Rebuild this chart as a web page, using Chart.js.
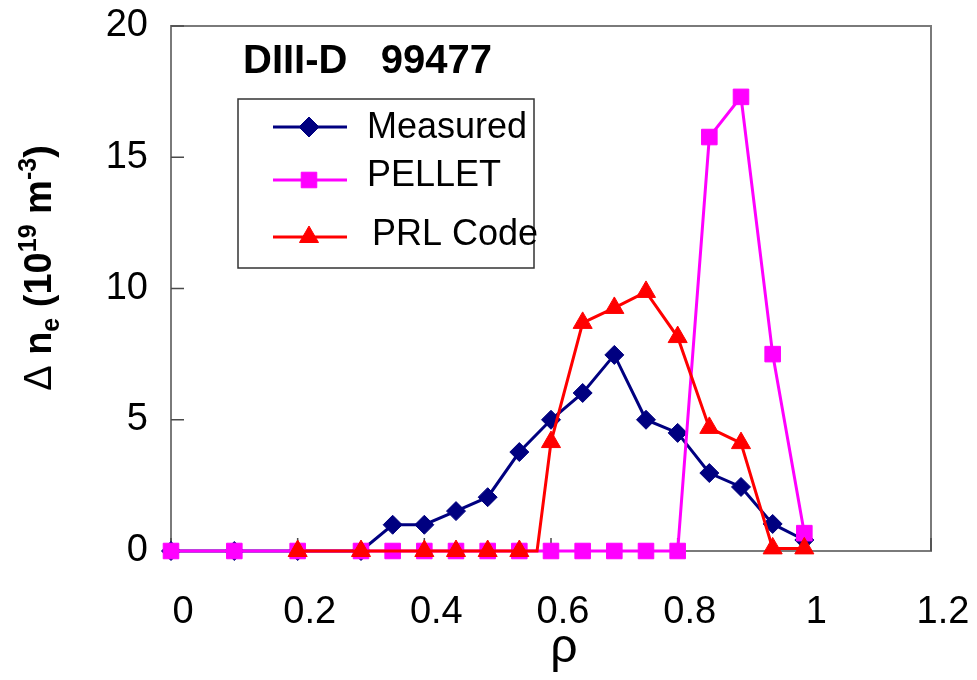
<!DOCTYPE html>
<html><head><meta charset="utf-8">
<style>html,body{margin:0;padding:0;background:#fff;}canvas{display:block;}</style>
<script src="https://cdn.jsdelivr.net/npm/chart.js@4.4.0/dist/chart.umd.min.js"></script>
</head><body>
<canvas id="c" width="977" height="680"></canvas>
<script>
// ---- data ----
const rhoMeasured = [0, 0.1, 0.2, 0.3, 0.35, 0.4, 0.45, 0.5, 0.55, 0.6, 0.65, 0.7, 0.75, 0.8, 0.85, 0.9, 0.95, 1.0];
const measured    = [0, 0, 0, 0, 1.0, 1.0, 1.52, 2.05, 3.77, 5.0, 6.02, 7.47, 5.0, 4.5, 2.97, 2.44, 1.03, 0.42];
const rhoPellet   = [0, 0.1, 0.2, 0.3, 0.35, 0.4, 0.45, 0.5, 0.55, 0.6, 0.65, 0.7, 0.75, 0.8, 0.85, 0.9, 0.95, 1.0];
const pellet      = [0, 0, 0, 0, 0, 0, 0, 0, 0, 0, 0, 0, 0, 0, 15.77, 17.3, 7.5, 0.68];
const rhoPRL      = [0.2, 0.3, 0.4, 0.45, 0.5, 0.55, 0.578, 0.6, 0.65, 0.7, 0.75, 0.8, 0.85, 0.9, 0.95, 1.0];
const prl         = [0, 0, 0, 0, 0, 0, 0, 4.15, 8.69, 9.26, 9.87, 8.15, 4.69, 4.11, 0.1, 0.1];
const prlHasMarker = [true, true, true, true, true, true, false, true, true, true, true, true, true, true, true, true];
const seriesNames = ['Measured', 'PELLET', 'PRL Code'];
const xTickLabels = ['0', '0.2', '0.4', '0.6', '0.8', '1', '1.2'];
const yTickLabels = ['0', '5', '10', '15', '20'];
const annotationText = 'DIII-D   99477';

const FONT = '"Liberation Sans", Arial, Helvetica, sans-serif';
Chart.defaults.font.family = FONT;

const toXY = (xs, ys) => xs.map((x, i) => ({x: x, y: ys[i]}));

const colors = {m: '#000080', p: '#FF00FF', r: '#FF0000'};

const datasets = [
  {label: seriesNames[0], data: toXY(rhoMeasured, measured), borderColor: colors.m, backgroundColor: colors.m,
   borderWidth: 3, pointStyle: 'rectRot', pointRadius: 9.5, pointBorderWidth: 1, pointBorderColor: colors.m, pointBackgroundColor: colors.m, order: 3, clip: false},
  {label: seriesNames[1], data: toXY(rhoPellet, pellet), borderColor: colors.p, backgroundColor: colors.p,
   borderWidth: 3, pointStyle: 'rect', pointRadius: 11, pointBorderWidth: 1, pointBorderColor: colors.p, pointBackgroundColor: colors.p, order: 2, clip: false},
  {label: seriesNames[2], data: toXY(rhoPRL, prl), borderColor: colors.r, backgroundColor: colors.r,
   borderWidth: 3, pointStyle: 'triangle', pointRadius: ctx => prlHasMarker[ctx.dataIndex] ? 11 : 0,
   pointBorderWidth: 1, pointBorderColor: colors.r, pointBackgroundColor: colors.r, order: 1, clip: false}
];

const frame = {
  id: 'frame',
  beforeDatasetsDraw(chart) {
    const {ctx, chartArea: a, scales: {x, y}} = chart;
    ctx.save();
    ctx.strokeStyle = '#7a7a7a'; ctx.lineWidth = 2;
    ctx.strokeRect(a.left, a.top, a.right - a.left, a.bottom - a.top);
    ctx.strokeStyle = '#4a4a4a'; ctx.lineWidth = 1.5;
    ctx.beginPath();
    y.ticks.forEach(t => { const py = y.getPixelForValue(t.value); ctx.moveTo(a.left, py); ctx.lineTo(a.left + 13, py); });
    x.ticks.forEach(t => { const px = x.getPixelForValue(t.value); ctx.moveTo(px, a.bottom); ctx.lineTo(px, a.bottom - 13); });
    ctx.stroke();
    ctx.restore();
  }
};

function drawMarker(ctx, style, r, cx, cy, color) {
  ctx.fillStyle = color; ctx.strokeStyle = color; ctx.lineWidth = 1;
  Chart.helpers.drawPoint(ctx, {pointStyle: style, radius: r, rotation: 0, borderWidth: 1}, cx, cy);
}

const extras = {
  id: 'extras',
  afterDraw(chart) {
    const {ctx} = chart;
    ctx.save();
    // annotation
    ctx.fillStyle = '#000';
    ctx.font = 'bold 40px ' + FONT;
    ctx.textAlign = 'left'; ctx.textBaseline = 'alphabetic';
    ctx.fillText(annotationText, 243, 73);
    // legend box
    ctx.strokeStyle = '#333'; ctx.lineWidth = 1.5;
    ctx.strokeRect(238, 99, 296, 169);
    const items = [
      {name: seriesNames[0], color: colors.m, style: 'rectRot', r: 10, y: 127, tx: 367, ty: 138},
      {name: seriesNames[1], color: colors.p, style: 'rect', r: 11, y: 180, tx: 367, ty: 186},
      {name: seriesNames[2], color: colors.r, style: 'triangle', r: 11, y: 237, tx: 372, ty: 245}
    ];
    items.forEach(it => {
      ctx.strokeStyle = it.color; ctx.lineWidth = 3;
      ctx.beginPath(); ctx.moveTo(273, it.y); ctx.lineTo(347, it.y); ctx.stroke();
      drawMarker(ctx, it.style, it.r, 309, it.y, it.color);
      ctx.fillStyle = '#000';
      ctx.font = '36px ' + FONT;
      ctx.textAlign = 'left'; ctx.textBaseline = 'alphabetic';
      ctx.fillText(it.name, it.tx, it.ty);
    });
    // x title
    ctx.font = '48px ' + FONT;
    ctx.textAlign = 'center';
    ctx.fillText('\u03C1', 564, 662);
    // y title (rotated)
    const segs = [
      {t: '\u0394', f: '38px ', s: 0},
      {t: ' n', f: 'bold 38px ', s: 0},
      {t: 'e', f: 'bold 25px ', s: 8},
      {t: ' (10', f: 'bold 38px ', s: 0},
      {t: '19', f: 'bold 25px ', s: -15},
      {t: ' m', f: 'bold 38px ', s: 0},
      {t: '-3', f: 'bold 25px ', s: -15},
      {t: ')', f: 'bold 38px ', s: 0}
    ];
    let total = 0;
    segs.forEach(sg => { ctx.font = sg.f + FONT; sg.w = ctx.measureText(sg.t).width; total += sg.w; });
    ctx.translate(51, 268);
    ctx.rotate(-Math.PI / 2);
    ctx.textAlign = 'left'; ctx.textBaseline = 'alphabetic';
    let px = -total / 2;
    segs.forEach(sg => { ctx.font = sg.f + FONT; ctx.fillText(sg.t, px, sg.s); px += sg.w; });
    ctx.restore();
  }
};

new Chart(document.getElementById('c'), {
  type: 'line',
  data: {datasets},
  options: {
    responsive: false, animation: false, events: [],
    layout: {padding: {top: 26, right: 46, bottom: 0, left: 0}},
    plugins: {legend: {display: false}, tooltip: {enabled: false}},
    elements: {line: {tension: 0}},
    scales: {
      x: {
        type: 'linear', min: 0, max: 1.2,
        grid: {display: false, drawTicks: false}, border: {display: false},
        ticks: {stepSize: 0.2, padding: 39, labelOffset: 12, color: '#000', font: {size: 38},
                maxRotation: 0, autoSkip: false,
                callback: (v, i) => xTickLabels[i]},
        afterFit: s => { s.height = 129; s.paddingLeft = 0; s.paddingRight = 0; }
      },
      y: {
        min: 0, max: 20,
        grid: {display: false, drawTicks: false}, border: {display: false},
        ticks: {stepSize: 5, padding: 23, color: '#000', font: {size: 38},
                callback: (v, i) => yTickLabels[i]},
        afterFit: s => { s.width = 171; s.paddingTop = 0; s.paddingBottom = 0; }
      }
    }
  },
  plugins: [frame, extras]
});
</script>
</body></html>
